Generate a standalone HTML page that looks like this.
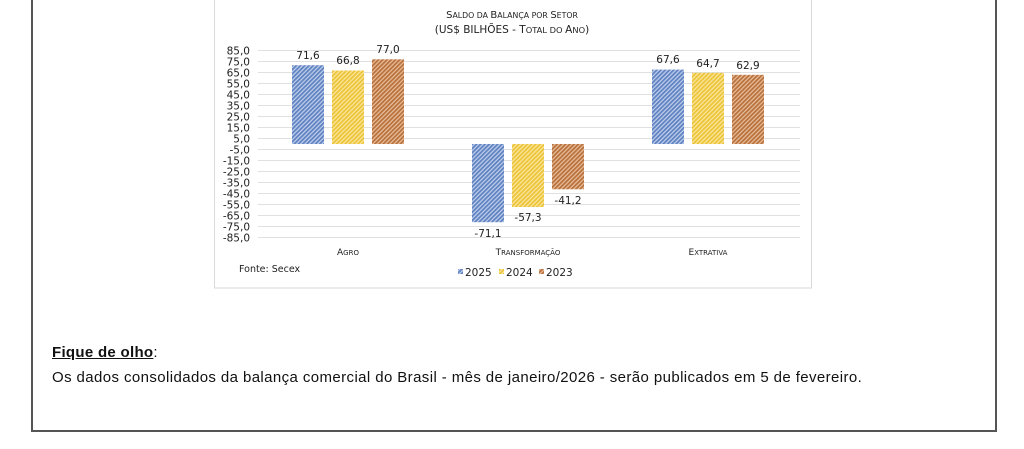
<!DOCTYPE html>
<html><head><meta charset="utf-8">
<style>
html,body{margin:0;padding:0;background:#fff;}
body{width:1024px;height:449px;overflow:hidden;position:relative;font-family:"Liberation Sans",sans-serif;}
.box{position:absolute;left:31px;top:-4px;width:962px;height:434px;border:2px solid #555;border-top:none;box-sizing:content-box;}
.t1{position:absolute;left:52px;top:344px;font-size:15px;color:#111;letter-spacing:0.3px;}
.t2{position:absolute;left:52px;top:369px;font-size:15px;color:#111;letter-spacing:0.4px;}
</style></head><body>
<div class="box"></div>
<svg width="1024" height="449" style="position:absolute;left:0;top:0" xmlns="http://www.w3.org/2000/svg" font-family="DejaVu Sans, Liberation Sans, sans-serif">
<defs>
<pattern id="pb" width="3" height="3" patternUnits="userSpaceOnUse" patternTransform="rotate(45)"><rect width="3" height="3" fill="#c3d1ec"/><rect width="1.8" height="3" fill="#5f82c2"/></pattern>
<pattern id="py" width="3" height="3" patternUnits="userSpaceOnUse" patternTransform="rotate(45)"><rect width="3" height="3" fill="#fbe7a0"/><rect width="1.8" height="3" fill="#ecc43a"/></pattern>
<pattern id="po" width="3" height="3" patternUnits="userSpaceOnUse" patternTransform="rotate(45)"><rect width="3" height="3" fill="#e9c09e"/><rect width="1.8" height="3" fill="#b9713c"/></pattern>
</defs>
<rect x="214.5" y="-1" width="597" height="289" fill="#fff" stroke="#d9d9d9"/>
<g fill="#222" font-size="10" text-anchor="middle">
<text x="512" y="18">S<tspan font-size="7.8">ALDO DA </tspan>B<tspan font-size="7.8">ALANÇA POR </tspan>S<tspan font-size="7.8">ETOR</tspan></text>
<text x="512" y="33" font-size="10.5">(US$ BILHÕES - T<tspan font-size="8.3">OTAL DO </tspan>A<tspan font-size="8.3">NO</tspan>)</text>
</g>
<g stroke="#e0e0e0" stroke-width="1">
<line x1="258" x2="800" y1="50.5" y2="50.5"/><line x1="258" x2="800" y1="61.5" y2="61.5"/><line x1="258" x2="800" y1="72.5" y2="72.5"/><line x1="258" x2="800" y1="83.5" y2="83.5"/><line x1="258" x2="800" y1="94.5" y2="94.5"/><line x1="258" x2="800" y1="105.5" y2="105.5"/><line x1="258" x2="800" y1="116.5" y2="116.5"/><line x1="258" x2="800" y1="127.5" y2="127.5"/><line x1="258" x2="800" y1="138.5" y2="138.5"/><line x1="258" x2="800" y1="149.5" y2="149.5"/><line x1="258" x2="800" y1="160.5" y2="160.5"/><line x1="258" x2="800" y1="171.5" y2="171.5"/><line x1="258" x2="800" y1="182.5" y2="182.5"/><line x1="258" x2="800" y1="193.5" y2="193.5"/><line x1="258" x2="800" y1="204.5" y2="204.5"/><line x1="258" x2="800" y1="215.5" y2="215.5"/><line x1="258" x2="800" y1="226.5" y2="226.5"/><line x1="258" x2="800" y1="237.5" y2="237.5"/>
</g>
<g fill="#222" font-size="10.5" text-anchor="end">
<text x="250" y="54.5">85,0</text><text x="250" y="65.5">75,0</text><text x="250" y="76.5">65,0</text><text x="250" y="87.5">55,0</text><text x="250" y="98.5">45,0</text><text x="250" y="109.5">35,0</text><text x="250" y="120.5">25,0</text><text x="250" y="131.5">15,0</text><text x="250" y="142.5">5,0</text><text x="250" y="153.5">-5,0</text><text x="250" y="164.5">-15,0</text><text x="250" y="175.5">-25,0</text><text x="250" y="186.5">-35,0</text><text x="250" y="197.5">-45,0</text><text x="250" y="208.5">-55,0</text><text x="250" y="219.5">-65,0</text><text x="250" y="230.5">-75,0</text><text x="250" y="241.5">-85,0</text>
</g>
<rect x="292" y="65.2" width="32" height="78.8" fill="url(#pb)"/>
<rect x="332" y="70.5" width="32" height="73.5" fill="url(#py)"/>
<rect x="372" y="59.3" width="32" height="84.7" fill="url(#po)"/>
<rect x="472" y="144" width="32" height="78.2" fill="url(#pb)"/>
<rect x="512" y="144" width="32" height="63" fill="url(#py)"/>
<rect x="552" y="144" width="32" height="45.3" fill="url(#po)"/>
<rect x="652" y="69.6" width="32" height="74.4" fill="url(#pb)"/>
<rect x="692" y="72.8" width="32" height="71.2" fill="url(#py)"/>
<rect x="732" y="74.8" width="32" height="69.2" fill="url(#po)"/>
<g fill="#222" font-size="10.5" text-anchor="middle">
<text x="308" y="59">71,6</text><text x="348" y="64">66,8</text><text x="388" y="53">77,0</text>
<text x="488" y="237">-71,1</text><text x="528" y="221">-57,3</text><text x="568" y="204">-41,2</text>
<text x="668" y="63">67,6</text><text x="708" y="67">64,7</text><text x="748" y="69">62,9</text>
</g>
<g fill="#222" font-size="9" text-anchor="middle">
<text x="348" y="255">A<tspan font-size="7">GRO</tspan></text>
<text x="528" y="255">T<tspan font-size="7">RANSFORMAÇÃO</tspan></text>
<text x="708" y="255">E<tspan font-size="7">XTRATIVA</tspan></text>
</g>
<text x="239" y="272" font-size="9.5" fill="#222">Fonte: Secex</text>
<rect x="458" y="269" width="5" height="5" fill="url(#pb)"/>
<text x="465" y="276" font-size="10.5" fill="#222">2025</text>
<rect x="499" y="269" width="5" height="5" fill="url(#py)"/>
<text x="506" y="276" font-size="10.5" fill="#222">2024</text>
<rect x="539" y="269" width="5" height="5" fill="url(#po)"/>
<text x="546" y="276" font-size="10.5" fill="#222">2023</text>
</svg>
<div class="t1"><b><u>Fique de olho</u></b>:</div>
<div class="t2">Os dados consolidados da balança comercial do Brasil - mês de janeiro/2026 - serão publicados em 5 de fevereiro.</div>
</body></html>
